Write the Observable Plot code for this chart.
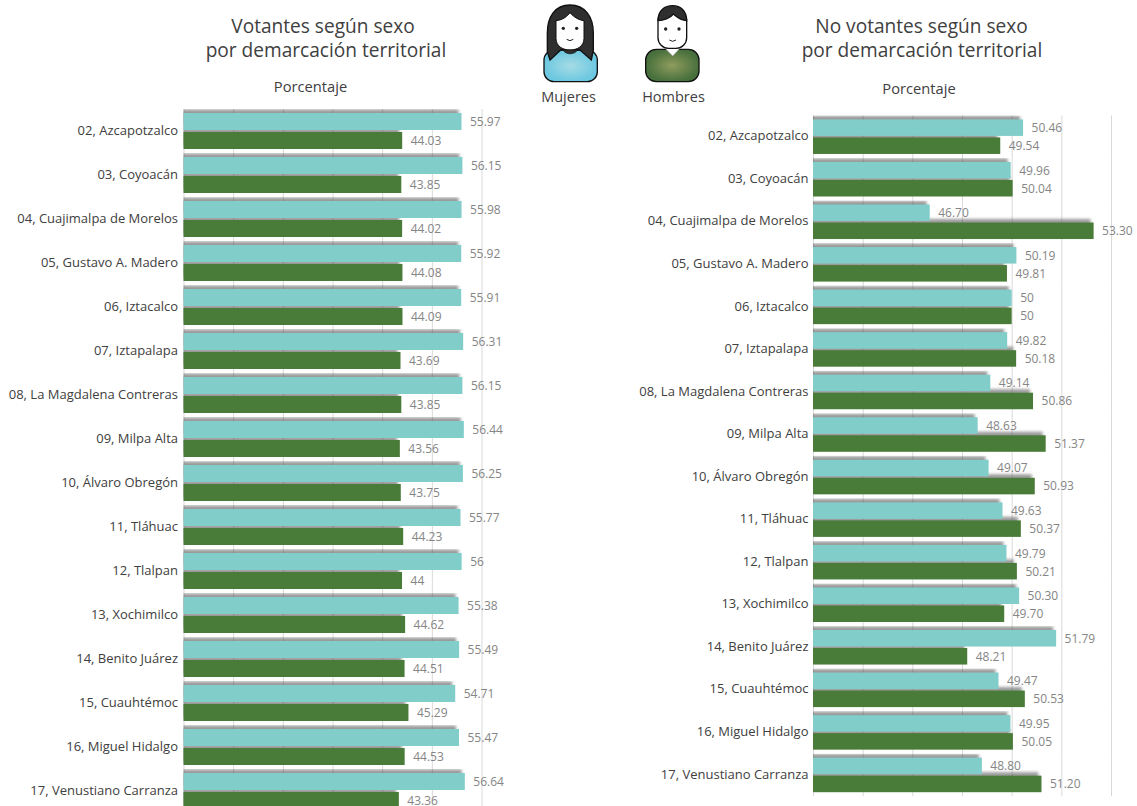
<!DOCTYPE html>
<html><head><meta charset="utf-8">
<script src="https://cdn.jsdelivr.net/npm/d3@7"></script>
<script src="https://cdn.jsdelivr.net/npm/@observablehq/plot@0.6"></script>
<style>
html,body{margin:0;padding:0;background:#fff;overflow:hidden}
#page{position:relative;width:1137px;height:806px;overflow:hidden;font-family:"Open Sans",sans-serif;color:#404040}
.t{position:absolute;text-align:center;white-space:nowrap;line-height:23.5px}
.title{font-size:19.1px}
.sub{font-size:14.7px;line-height:18px}
.leg{font-size:14.5px;line-height:18px}
#left,#right{position:absolute;top:0}
#left{left:0}#right{left:540px}
svg text{font-family:"Open Sans",sans-serif}
</style></head><body>
<div id="page">
<div id="left"></div><div id="right"></div>
<div class="t title" style="left:146px;width:360px;top:15px;text-indent:-6px">Votantes según sexo<br>por demarcación territorial</div>
<div class="t title" style="left:742px;width:360px;top:15px;text-indent:-1px">No votantes según sexo<br>por demarcación territorial</div>
<div class="t sub" style="left:210.5px;width:200px;top:77px">Porcentaje</div>
<div class="t sub" style="left:819px;width:200px;top:79px">Porcentaje</div>
<div class="t leg" style="left:518.5px;width:100px;top:88px">Mujeres</div>
<div class="t leg" style="left:623.5px;width:100px;top:88px">Hombres</div>
<svg style="position:absolute;left:530px;top:0" width="190" height="85" viewBox="0 0 570 255">
<defs>
<radialGradient id="gw"><stop offset="0" stop-color="#a6dbe6"/><stop offset="1" stop-color="#6cc8e0"/></radialGradient>
<radialGradient id="gm"><stop offset="0" stop-color="#8f9c5e"/><stop offset="1" stop-color="#48703c"/></radialGradient>
</defs>
<g stroke="#111" stroke-width="4">
<rect x="42" y="150" width="160" height="95" rx="30" fill="url(#gw)"/>
<path d="M120 15C75 15 52 50 52 100V155L60 180L92 150H150L184 180L190 150V100C190 50 165 15 120 15Z" fill="#2f2f2f"/>
<path d="M78 62C100 60 112 48 120 38C130 50 145 60 162 62V115C162 140 140 150 120 150C100 150 78 140 78 115Z" fill="#fff" stroke-width="3"/>
<path d="M100 150C105 165 135 165 142 150Z" fill="#2f2f2f" stroke-width="2"/>
<rect x="347" y="148" width="160" height="97" rx="32" fill="url(#gm)"/>
<path d="M405 145L428 168L450 145Z" fill="#fff" stroke="#999" stroke-width="1.5"/>
<rect x="384" y="30" width="86" height="115" rx="32" fill="#fff"/>
<path d="M384 62C384 30 405 17 428 17C452 17 470 32 470 62C450 60 440 50 430 42C420 55 400 62 384 62Z" fill="#2f2f2f"/>
</g>
<g fill="#222">
<circle cx="100" cy="85" r="5"/><circle cx="140" cy="85" r="5"/>
<circle cx="407" cy="87" r="5"/><circle cx="447" cy="87" r="5"/>
</g>
<g fill="none" stroke="#222" stroke-width="3">
<path d="M110 118Q120 126 130 118"/><path d="M418 120Q428 128 438 120"/>
</g>
</svg>
</div>
<script>
const categories = ["02, Azcapotzalco","03, Coyoacán","04, Cuajimalpa de Morelos","05, Gustavo A. Madero","06, Iztacalco","07, Iztapalapa","08, La Magdalena Contreras","09, Milpa Alta","10, Álvaro Obregón","11, Tláhuac","12, Tlalpan","13, Xochimilco","14, Benito Juárez","15, Cuauhtémoc","16, Miguel Hidalgo","17, Venustiano Carranza"];
const votantesMujeres = [55.97,56.15,55.98,55.92,55.91,56.31,56.15,56.44,56.25,55.77,56,55.38,55.49,54.71,55.47,56.64];
const votantesHombres = [44.03,43.85,44.02,44.08,44.09,43.69,43.85,43.56,43.75,44.23,44,44.62,44.51,45.29,44.53,43.36];
const noVotantesMujeres = [50.46,49.96,46.70,50.19,50,49.82,49.14,48.63,49.07,49.63,49.79,50.30,51.79,49.47,49.95,48.80];
const noVotantesHombres = [49.54,50.04,53.30,49.81,50,50.18,50.86,51.37,50.93,50.37,50.21,49.70,48.21,50.53,50.05,51.20];
const sexes = ["Mujeres","Hombres"];
const colors = ["#80cdc9","#4a7c39"];
const leftTicks = [0,10,20,30,40,50,60];
const rightTicks = [42,44,46,48,50,52,54];

const fmt = v => Number.isInteger(v) ? String(v) : v.toFixed(2);
const rowsOf = (m,h) => categories.flatMap((c,i)=>[
  {c, s:"Mujeres", v:m[i]}, {c, s:"Hombres", v:h[i]}
]);
function chart({rows,domain,ticks,width,height,marginLeft,marginRight,fyRange,pi,po,pad}){
  return Plot.plot({
    width,height,marginLeft,marginRight,marginTop:0,marginBottom:0,
    style:{background:"transparent",fontSize:"12px"},
    x:{domain,axis:null},
    y:{domain:sexes,axis:null,paddingInner:pi,paddingOuter:po,align:0.5,round:false},
    fy:{domain:categories,range:fyRange,padding:0,axis:null,label:null,round:false},
    color:{domain:sexes,range:colors},
    marks:[
      Plot.ruleX(ticks,{stroke:"#d9d9d9",strokeWidth:1}),
      Plot.barX(rows,{x1:domain[0],x2:"v",y:"s",fy:"c",fill:"#333",fillOpacity:0.5,dx:-3,dy:-3.5,clip:"frame",imageFilter:"blur(1.6px)"}),
      Plot.barX(rows,{x1:domain[0],x2:"v",y:"s",fy:"c",fill:"s"}),
      Plot.text(rows,{x:"v",y:"s",fy:"c",text:d=>fmt(d.v),dx:8,textAnchor:"start",fill:"#858585",fontSize:12}),
      Plot.axisFy({anchor:"left",tickSize:0,tickPadding:pad,label:null,fontSize:13,color:"#404040",dy:-1})
    ]
  });
}
document.getElementById("left").append(chart({
  rows:rowsOf(votantesMujeres,votantesHombres),domain:[0,60],ticks:leftTicks,
  width:520,height:806,marginLeft:183.5,marginRight:38.5,fyRange:[109,813],pi:0.105,po:0.21,pad:6
}));
document.getElementById("right").append(chart({
  rows:rowsOf(noVotantesMujeres,noVotantesHombres),domain:[42,54],ticks:rightTicks,
  width:597,height:806,marginLeft:273,marginRight:26,fyRange:[115.4,796.2],pi:0.083,po:0.222,pad:5
}));
</script>
</body></html>
